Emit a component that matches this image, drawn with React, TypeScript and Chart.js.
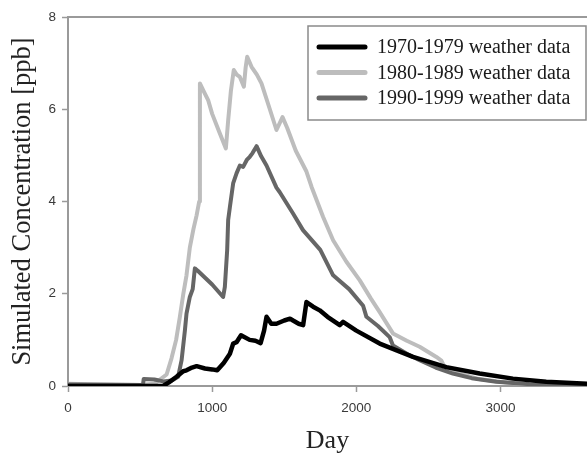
import { useEffect, useRef } from "react";
import { Chart, registerables } from "chart.js";

Chart.register(...registerables);

const SERIES_LABELS = [
  "1970-1979 weather data",
  "1980-1989 weather data",
  "1990-1999 weather data",
];
const SERIES_COLORS = ["#000000", "#bdbdbd", "#666666"];

// 1970-1979 weather data (black)
const DAYS_1970S = [
  0, 660, 700, 753, 799, 822, 860, 892, 950, 1000, 1035, 1080, 1123, 1146,
  1169, 1200, 1260, 1300, 1336, 1360, 1377, 1410, 1446, 1500, 1540, 1561,
  1600, 1631, 1654, 1700, 1746, 1800, 1885, 1908, 2000, 2162, 2393, 2624,
  2855, 3086, 3317, 3600,
];
const CONC_1970S = [
  0, 0, 0.08, 0.2, 0.32, 0.34, 0.4, 0.43, 0.38, 0.36, 0.34, 0.5, 0.7, 0.92,
  0.95, 1.1, 1.0, 0.98, 0.93, 1.2, 1.5, 1.35, 1.35, 1.42, 1.46, 1.42, 1.35,
  1.32, 1.82, 1.72, 1.64, 1.5, 1.32, 1.39, 1.2, 0.92, 0.63, 0.41, 0.27, 0.16,
  0.09, 0.05,
];

// 1980-1989 weather data (light grey)
const DAYS_1980S = [
  0, 150, 500, 600, 684, 718, 750, 776, 800, 822, 845, 870, 892, 910, 915,
  940, 972, 1000, 1050, 1095, 1111, 1130, 1150, 1170, 1192, 1220, 1232, 1243,
  1273, 1310, 1342, 1400, 1446, 1488, 1520, 1580, 1654, 1689, 1769, 1839,
  1930, 2024, 2100, 2162, 2254, 2350, 2439, 2555, 2590, 2610, 2716, 2850,
  2994, 3200, 3600,
];
const CONC_1980S = [
  0.05, 0.04, 0.02, 0.05, 0.25, 0.6, 1.0, 1.5, 2.0, 2.4, 3.0, 3.4, 3.7, 4.0,
  6.56, 6.4, 6.2, 5.9, 5.5, 5.15, 5.76, 6.4, 6.85, 6.75, 6.7, 6.49, 6.9,
  7.14, 6.92, 6.75, 6.56, 6.0, 5.55, 5.83, 5.6, 5.1, 4.65, 4.32, 3.67, 3.16,
  2.7, 2.29, 1.9, 1.6, 1.14, 0.98, 0.85, 0.63, 0.55, 0.42, 0.27, 0.15, 0.09,
  0.03, 0.01,
];

// 1990-1999 weather data (dark grey)
const DAYS_1990S = [
  0, 520, 525, 600, 660, 720, 764, 788, 811, 822, 845, 865, 880, 900, 1000,
  1076, 1088, 1104, 1111, 1123, 1146, 1169, 1192, 1215, 1240, 1261, 1280,
  1308, 1340, 1377, 1446, 1469, 1561, 1630, 1750, 1839, 1950, 2047, 2070,
  2150, 2231, 2254, 2350, 2439, 2550, 2670, 2800, 2971, 3200, 3600,
];
const CONC_1990S = [
  0.03, 0.02, 0.15, 0.14, 0.1, 0.12, 0.2, 0.56, 1.21, 1.57, 1.93, 2.1, 2.55,
  2.5, 2.2, 1.93, 2.15, 2.94, 3.6, 3.88, 4.4, 4.61, 4.78, 4.75, 4.9, 4.97,
  5.05, 5.2, 4.98, 4.78, 4.3, 4.2, 3.74, 3.38, 2.95, 2.4, 2.1, 1.74, 1.5, 1.3,
  1.06, 0.88, 0.7, 0.56, 0.4, 0.27, 0.17, 0.09, 0.04, 0.02,
];

const X_TICKS = [0, 1000, 2000, 3000];
const X_MIN = 0;
const X_MAX = 3600;
const Y_MIN = 0;
const Y_MAX = 8;
const Y_STEP = 2;

const AXIS_GREY = "#9a9a9a";

const toPoints = (days: number[], conc: number[]) =>
  days.map((d, i) => ({ x: d, y: conc[i] }));

// top frame line of the plot area
const framePlugin = {
  id: "frameTop",
  afterDraw(chart: Chart) {
    const { ctx, chartArea } = chart;
    ctx.save();
    ctx.strokeStyle = AXIS_GREY;
    ctx.lineWidth = 2;
    ctx.beginPath();
    ctx.moveTo(chartArea.left, chartArea.top);
    ctx.lineTo(chartArea.right, chartArea.top);
    ctx.stroke();
    ctx.restore();
  },
};

// boxed legend in the upper right corner
const boxLegendPlugin = {
  id: "boxLegend",
  afterDraw(chart: Chart) {
    const { ctx, chartArea } = chart;
    const boxRight = chartArea.right - 1;
    const boxLeft = boxRight - 278;
    const boxTop = chartArea.top + 9;
    const boxH = 94;
    ctx.save();
    ctx.fillStyle = "#ffffff";
    ctx.fillRect(boxLeft, boxTop, boxRight - boxLeft, boxH);
    ctx.strokeStyle = "#8a8a8a";
    ctx.lineWidth = 1.5;
    ctx.strokeRect(boxLeft, boxTop, boxRight - boxLeft, boxH);
    ctx.font = "20px 'Liberation Serif', 'Times New Roman', serif";
    ctx.textBaseline = "middle";
    ctx.textAlign = "left";
    SERIES_LABELS.forEach((label, i) => {
      const y = boxTop + 21 + i * 25.5;
      ctx.strokeStyle = SERIES_COLORS[i];
      ctx.lineWidth = 5;
      ctx.lineCap = "round";
      ctx.beginPath();
      ctx.moveTo(boxLeft + 11, y);
      ctx.lineTo(boxLeft + 57, y);
      ctx.stroke();
      ctx.fillStyle = "#1a1a1a";
      ctx.fillText(label, boxLeft + 69, y + 1);
    });
    ctx.restore();
  },
};

export default function App() {
  const canvasRef = useRef<HTMLCanvasElement>(null);
  const chartRef = useRef<Chart | null>(null);

  useEffect(() => {
    if (!canvasRef.current) return;
    if (chartRef.current) chartRef.current.destroy();

    const lineStyle = (i: number, width: number, order: number) => ({
      label: SERIES_LABELS[i],
      borderColor: SERIES_COLORS[i],
      backgroundColor: SERIES_COLORS[i],
      borderWidth: width,
      pointRadius: 0,
      tension: 0,
      fill: false,
      order,
      borderJoinStyle: "round" as const,
    });

    const tickFont = { family: "'Liberation Sans', Arial, sans-serif", size: 13.5 };

    chartRef.current = new Chart(canvasRef.current, {
      type: "line",
      data: {
        datasets: [
          { ...lineStyle(0, 4.5, 0), data: toPoints(DAYS_1970S, CONC_1970S) },
          { ...lineStyle(1, 4, 2), data: toPoints(DAYS_1980S, CONC_1980S) },
          { ...lineStyle(2, 4, 1), data: toPoints(DAYS_1990S, CONC_1990S) },
        ],
      },
      options: {
        animation: false,
        responsive: true,
        maintainAspectRatio: false,
        layout: { padding: { top: 17, right: 0, left: 0, bottom: 0 } },
        plugins: {
          legend: { display: false },
          tooltip: { enabled: false },
        },
        scales: {
          x: {
            type: "linear",
            min: X_MIN,
            max: X_MAX,
            afterBuildTicks: (scale) => {
              scale.ticks = X_TICKS.map((v) => ({ value: v }));
            },
            afterFit: (scale) => {
              scale.height = 68;
            },
            grid: {
              drawOnChartArea: false,
              tickLength: 6,
              tickColor: AXIS_GREY,
              tickWidth: 1.5,
            },
            border: { color: AXIS_GREY, width: 2 },
            ticks: {
              color: "#3a3a3a",
              padding: 8,
              maxRotation: 0,
              font: tickFont,
              callback: (value) => String(value),
            },
            title: {
              display: true,
              text: "Day",
              color: "#222",
              padding: { top: 0, bottom: 0 },
              font: {
                family: "'Liberation Serif', 'Times New Roman', serif",
                size: 26,
                lineHeight: 1.0,
              },
            },
          },
          y: {
            min: Y_MIN,
            max: Y_MAX,
            afterFit: (scale) => {
              scale.width = 68;
            },
            grid: {
              drawOnChartArea: false,
              tickLength: 6,
              tickColor: AXIS_GREY,
              tickWidth: 1.5,
            },
            border: { color: AXIS_GREY, width: 2 },
            ticks: {
              stepSize: Y_STEP,
              color: "#3a3a3a",
              padding: 6,
              font: tickFont,
              callback: (value) => String(value),
            },
            title: {
              display: true,
              text: "Simulated Concentration [ppb]",
              color: "#222",
              padding: { top: 8, bottom: 0 },
              font: {
                family: "'Liberation Serif', 'Times New Roman', serif",
                size: 26.5,
                lineHeight: 1.15,
              },
            },
          },
        },
      },
      plugins: [framePlugin, boxLegendPlugin],
    });

    return () => {
      if (chartRef.current) {
        chartRef.current.destroy();
        chartRef.current = null;
      }
    };
  }, []);

  return (
    <div
      style={{
        position: "absolute",
        left: 0,
        top: 0,
        width: 587,
        height: 454,
        background: "#fff",
      }}
    >
      <canvas ref={canvasRef}></canvas>
    </div>
  );
}
